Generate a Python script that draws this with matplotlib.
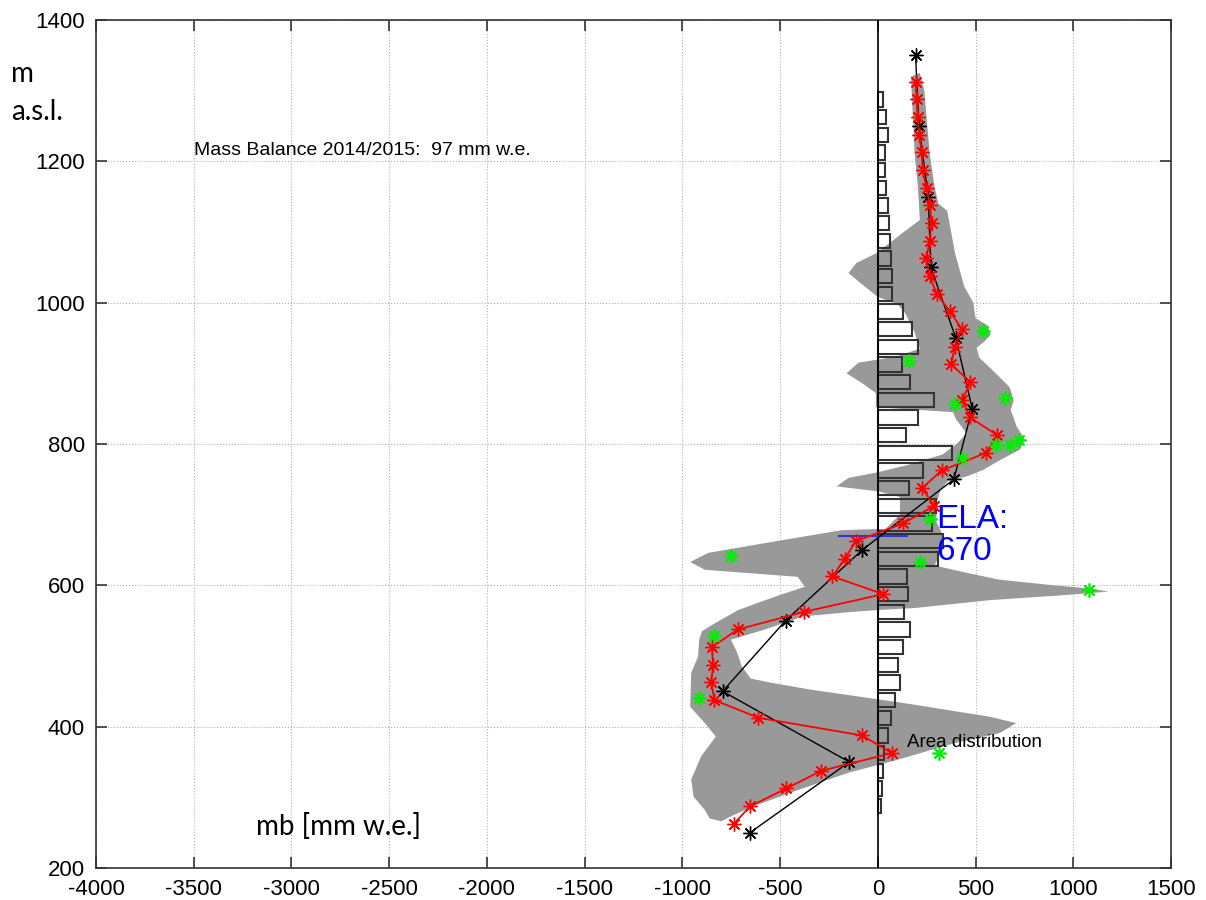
import matplotlib
matplotlib.use("Agg")
import matplotlib.pyplot as plt

plt.rcParams['font.family'] = ['Liberation Sans', 'DejaVu Sans']
plt.rcParams['axes.unicode_minus'] = False

# -----------------------------
# DATA
# -----------------------------
# point balance cloud, outline traced clockwise (mb, elevation)
cloud_mb = [170, 215, 238, 250, 265, 290, 310, 355, 395, 442, 488, 500, 560, 578, 545, 505,
            520, 573, 640, 675, 695, 680, 710, 752, 727, 624, 537, 454, 360, 320, 300, 300,
            330, 320, 290, 450, 620, 900, 1100, 1180, 950, 573, 194, 0, -150, -381, -583,
            -752, -720, -696, -650, -544, -336, -108, 118, 346, 573, 708, 625, 384, 100,
            -148, -411, -640, -752, -800, -860, -885, -943, -955, -904, -829, -885, -960,
            -955, -920, -914, -900, -829, -714, -525, -373, -411, -885, -960, -866, -487,
            -184, 40, 113, 113, 0, -211, -150, 0, 150, 330, 403, 454, 400, 385, -10, -10,
            -80, -160, -100, 100, 215, 185, 140, 100, 0, -90, -150, -110, -7, 128, 215, 205,
            188, 172]
cloud_elev = [1320, 1325, 1300, 1260, 1212, 1164, 1140, 1130, 1070, 1023, 1000, 978, 968, 955,
              945, 936, 922, 908, 890, 880, 862, 848, 825, 806, 792, 777, 763, 754, 748, 735,
              715, 690, 672, 645, 628, 618, 608, 600, 595, 591, 586, 579, 568, 565, 562, 556,
              537, 523, 505, 485, 468, 462, 452, 443, 434, 424, 414, 405, 391, 376, 353, 335,
              310, 287, 273, 266, 270, 282, 301, 325, 358, 386, 405, 428, 476, 499, 523, 535,
              547, 565, 584, 598, 612, 622, 633, 646, 664, 678, 680, 700, 725, 733, 740, 752,
              760, 770, 785, 800, 815, 835, 845, 852, 872, 886, 900, 915, 924, 935, 960, 985,
              998, 1008, 1028, 1042, 1056, 1070, 1099, 1117, 1164, 1212, 1306]

# area distribution, 25 m bands
band_elev = [1287.5 - 25 * i for i in range(41)]
band_area = [24, 44, 53, 36, 36, 44, 53, 58, 61, 65, 70, 75, 130, 176, 207, 125, 167, 288,
             207, 143, 381, 229, 160, 297, 278, 335, 310, 149, 153, 135, 167, 131, 102, 113,
             90, 67, 52, 30, 26, 23, 14]

# mean balance per 25 m band (red)
red_elev = [1312.5 - 25 * i for i in range(43)]
red_mb = [193, 198, 203, 212, 224, 229, 249, 266, 275, 265, 248, 266, 301, 369, 430, 393,
          376, 474, 432, 472, 610, 554, 327, 226, 289, 129, -112, -170, -232, 28, -377,
          -716, -849, -843, -852, -836, -611, -80, 72, -289, -468, -652, -737]

# mean balance per 100 m band (black)
black_elev = [1350, 1250, 1150, 1050, 950, 850, 750, 650, 550, 450, 350, 250]
black_mb = [193, 210, 258, 271, 399, 483, 389, -80, -472, -794, -146, -654]

# stake measurements (green)
green_mb = [536, 160, 650, 394, 602, 675, 723, 432, 266, 217, -752, 1080, -838, -914, 312]
green_elev = [960, 918, 865, 857, 798, 798, 805, 780, 694, 633, 642, 593, 528, 441, 362]

ela = 670
ela_line_mb = [-200, 150]
mass_balance = 97

x_ticks = list(range(-4000, 1501, 500))
y_ticks = list(range(200, 1401, 200))

# -----------------------------
# PLOT
# -----------------------------
fig = plt.figure(figsize=(12.06, 9), dpi=100)
ax = fig.add_axes([0.0796, 0.0356, 0.8914, 0.9422])
ax.set_axisbelow(True)

ax.fill(cloud_mb, cloud_elev, color='#999999', lw=0, zorder=1)
ax.barh(band_elev, band_area, height=20, left=0, facecolor='none',
        edgecolor='#333333', linewidth=1.5, zorder=2)
ax.axvline(0, color='black', lw=1.2, zorder=3)
ax.plot(ela_line_mb, [ela, ela], color='#3333dd', lw=1.5, zorder=4)

star = (8, 2, 0)
ax.plot(black_mb, black_elev, color='black', lw=1.0, marker=star, ms=10, mew=1.0, zorder=5)
ax.plot(red_mb, red_elev, color='red', lw=1.3, marker=star, ms=10, mew=1.0, zorder=6)
ax.plot(green_mb, green_elev, ls='none', color='#00ee00', marker=star, ms=10, mew=1.2, zorder=7)

ax.text(300, ela, "ELA:\n%d" % ela, color='blue', fontsize=24, ha='left', va='center',
        linespacing=1.05, zorder=8)
ax.text(150, 371, "Area distribution", fontsize=13.5, ha='left', va='baseline', zorder=8)
ax.text(-3500, 1209, "Mass Balance 2014/2015:  %d mm w.e." % mass_balance, fontsize=14,
        ha='left', va='baseline')

ax.set_xlim(-4000, 1500)
ax.set_ylim(200, 1400)
ax.set_xticks(x_ticks)
ax.set_yticks(y_ticks)
ax.grid(True, ls=':', color='#b0b0b0', lw=0.8)
ax.tick_params(direction='in', top=True, right=True, length=8, width=1.2,
               labelsize=16, pad=8, color='#333333')
for sp in ax.spines.values():
    sp.set_color('#333333')
    sp.set_linewidth(1.2)

label_font = ['Lato', 'DejaVu Sans']
fig.text(0.009, 1 - 82 / 900, "m", fontsize=20, family=label_font, va='baseline')
fig.text(0.009, 1 - 120 / 900, "a.s.l.", fontsize=20, family=label_font, va='baseline')
fig.text(256 / 1206, 1 - 835 / 900, "mb [mm w.e.]", fontsize=20, family=label_font,
         va='baseline')

fig.savefig("out.png", dpi=100)
